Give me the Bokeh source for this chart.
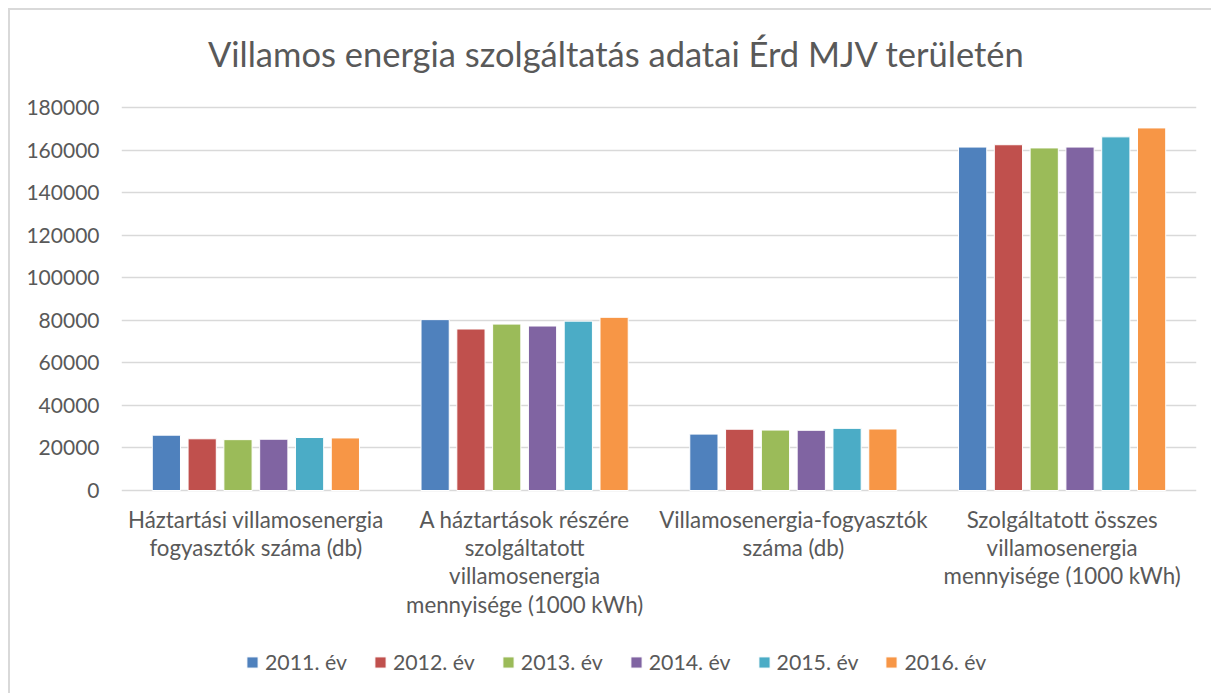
from bokeh.plotting import figure
from bokeh.models import FactorRange, Range1d, Legend, LegendItem, ColumnDataSource, NumeralTickFormatter, Label
from bokeh.core.properties import value
from bokeh.transform import dodge
from bokeh.embed import file_html
from bokeh.resources import INLINE

title = "Villamos energia szolgáltatás adatai Érd MJV területén"
categories = [
    "Háztartási villamosenergia\nfogyasztók száma (db)",
    "A háztartások részére\nszolgáltatott\nvillamosenergia\nmennyisége (1000 kWh)",
    "Villamosenergia-fogyasztók\nszáma (db)",
    "Szolgáltatott összes\nvillamosenergia\nmennyisége (1000 kWh)",
]
years = ["2011. év", "2012. év", "2013. év", "2014. év", "2015. év", "2016. év"]
v2011 = [26000, 80300, 26500, 161400]
v2012 = [24300, 75900, 28800, 162500]
v2013 = [23900, 78200, 28400, 161000]
v2014 = [24100, 77300, 28300, 161400]
v2015 = [24900, 79600, 29200, 166200]
v2016 = [24700, 81400, 28900, 170400]
series = [v2011, v2012, v2013, v2014, v2015, v2016]
colors = ["#4F81BD", "#C0504D", "#9BBB59", "#8064A2", "#4BACC6", "#F79646"]
yticks = list(range(0, 180001, 20000))

FONT = "Lato"
GRAY = "#595959"

# layout in pixels (frame spans the whole inner box; value axis 0..180000 = 383 px)
YMAX = 180000
AXIS_PX = 383
PX = AXIS_PX / YMAX           # pixels per data unit
ABOVE_PX = 97                 # space above 180000 inside frame
BELOW_PX = 203                # space below 0 inside frame
FRAME_W = 1075
CAT_PX = FRAME_W / len(categories)

src = ColumnDataSource(dict(cat=categories, **{f"y{i}": s for i, s in enumerate(series)}))

p = figure(
    x_range=FactorRange(*categories, range_padding=0),
    y_range=Range1d(-BELOW_PX / PX, YMAX + ABOVE_PX / PX),
    frame_width=FRAME_W, frame_height=AXIS_PX + ABOVE_PX + BELOW_PX,
    output_backend="svg", toolbar_location=None,
    min_border_left=111, min_border_right=15, min_border_top=0, min_border_bottom=0,
)
p.styles = {"border-left": "2px solid #d9d9d9", "border-top": "2px solid #d9d9d9",
            "margin-left": "8px", "margin-top": "8px"}
p.outline_line_color = None

step = 0.1332
items = []
for i, (yr, col) in enumerate(zip(years, colors)):
    r = p.vbar(x=dodge("cat", (i - 2.5) * step, range=p.x_range), top=f"y{i}", width=0.105,
               source=src, fill_color=col, line_color="white", line_width=1)
    items.append(LegendItem(label=yr, renderers=[r]))

# category labels under the zero line
p.text(x=categories, y=[-15 / PX] * len(categories), text=categories,
       text_font=value(FONT), text_font_size=value("22.3px"), text_color=GRAY,
       text_align="center", text_baseline="top", text_line_height=1.05)

# chart title
p.add_layout(Label(x=(616 - 121) / CAT_PX, y=437 / PX, text=title,
                   text_font=FONT, text_font_size="34.5px", text_color=GRAY,
                   text_align="center", text_baseline="middle"))

p.xaxis.visible = False
p.xgrid.grid_line_color = None
p.ygrid.grid_line_color = "#d9d9d9"
p.ygrid.grid_line_width = 1.5
p.yaxis.ticker = yticks
p.ygrid.ticker = yticks
p.yaxis.formatter = NumeralTickFormatter(format="0")
p.yaxis.axis_line_color = None
p.yaxis.major_tick_line_color = None
p.yaxis.minor_tick_line_color = None
p.yaxis.major_label_standoff = 16
p.yaxis.major_label_text_font = FONT
p.yaxis.major_label_text_font_size = "21px"
p.yaxis.major_label_text_color = GRAY

legend = Legend(items=items, orientation="horizontal", location=(124, 18),
                border_line_color=None, background_fill_alpha=0,
                label_text_font=FONT, label_text_font_size="21.3px", label_text_color=GRAY,
                glyph_width=14, glyph_height=14, label_standoff=6, spacing=26,
                padding=10, margin=0)
p.add_layout(legend, "center")

open("out.html", "w").write(file_html(p, INLINE))
